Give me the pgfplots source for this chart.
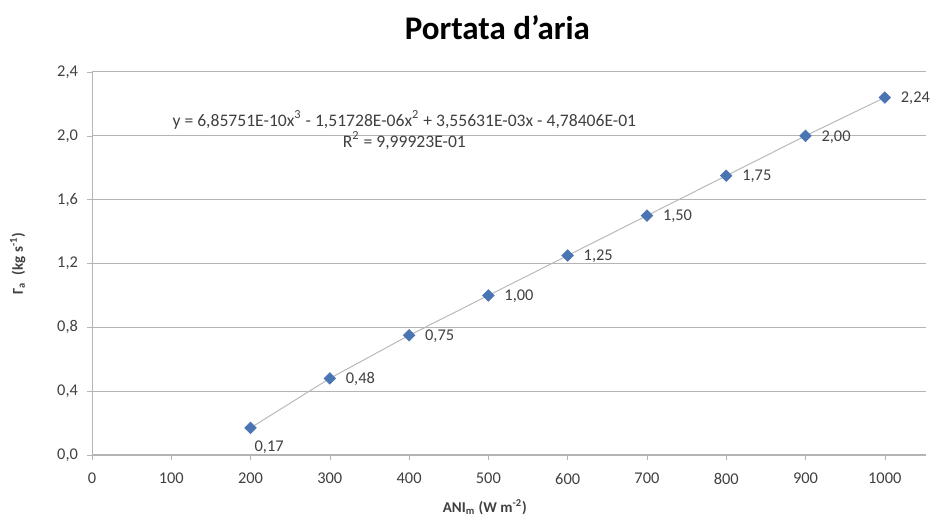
\documentclass[border=0pt]{standalone}
\usepackage{fontspec}
\setmainfont{Carlito}
\usepackage{pgfplots}
\pgfplotsset{compat=1.18}
\definecolor{markblue}{HTML}{4A74B2}
\definecolor{gridgray}{HTML}{B4B4B4}
\definecolor{txtgray}{HTML}{404040}

\begin{document}
\begin{tikzpicture}
\useasboundingbox (-46pt,-32.5pt) rectangle (423pt,227.5pt);
\begin{axis}[
    scale only axis,
    width=417pt, height=191.5pt,
    xmin=0, xmax=1052,
    ymin=0, ymax=2.4,
    xtick={0,100,...,1000},
    ytick={0,0.4,...,2.4},
    axis x line=bottom, axis y line=left,
    axis line style={gridgray, -},
    tick style={gridgray},
    tick align=outside,
    major tick length=2.5pt,
    ymajorgrids,
    grid style={gridgray, line width=0.5pt},
    ticklabel style={font=\fontsize{8.2}{9}\selectfont, text=txtgray},
    /pgf/number format/assume math mode=true,
    yticklabel style={xshift=-1pt, /pgf/number format/.cd, use comma, fixed, fixed zerofill, precision=1},
    xticklabel style={yshift=-3pt, /pgf/number format/.cd, set thousands separator={}},
    xlabel={\bfseries ANI\textsubscript{m} (W m\textsuperscript{-2})},
    ylabel={\bfseries Γ\textsubscript{a} \ (kg s\textsuperscript{-1})},
    label style={font=\fontsize{7.5}{9}\selectfont, text=txtgray},
    xlabel style={at={(axis description cs:0.471,-0.136)}, anchor=center},
    ylabel style={at={(axis description cs:-0.089,0.5)}, anchor=center, rotate=0},
    clip=false,
]
% linea di tendenza
\addplot[color=gray!55, line width=0.5pt, forget plot] coordinates {
    (200,0.17) (300,0.48) (400,0.75) (500,1.00) (600,1.25)
    (700,1.50) (800,1.75) (900,2.00) (1000,2.24)};
% punti
\addplot[only marks, mark=square*, mark size=2.0pt,
    mark options={fill=markblue, draw=markblue, rotate=45},
    nodes near coords,
    point meta=explicit,
    nodes near coords style={font=\fontsize{8.2}{9}\selectfont, text=txtgray,
        anchor=west, xshift=4.5pt, yshift=-0.5pt,
        /pgf/number format/.cd, use comma, fixed, fixed zerofill, precision=2, assume math mode=true},
] coordinates {
    (300,0.48) [0.48] (400,0.75) [0.75] (500,1.00) [1.00]
    (600,1.25) [1.25] (700,1.50) [1.50] (800,1.75) [1.75] (900,2.00) [2.00]
    (1000,2.24) [2.24]};
\addplot[only marks, mark=square*, mark size=2.0pt,
    mark options={fill=markblue, draw=markblue, rotate=45},
    nodes near coords,
    point meta=explicit,
    nodes near coords style={font=\fontsize{8.2}{9}\selectfont, text=txtgray,
        anchor=north west, xshift=-1.5pt, yshift=-3pt,
        /pgf/number format/.cd, use comma, fixed, fixed zerofill, precision=2, assume math mode=true},
] coordinates {(200,0.17) [0.17]};
\node[font=\fontsize{8.8}{10}\selectfont, text=txtgray] at (axis cs:394,2.10)
    {y = 6,85751E-10x\textsuperscript{3} - 1,51728E-06x\textsuperscript{2} + 3,55631E-03x - 4,78406E-01};
\node[font=\fontsize{8.8}{10}\selectfont, text=txtgray] at (axis cs:394,1.97)
    {R\textsuperscript{2} = 9,99923E-01};
\node[font=\fontsize{16.5}{19}\selectfont\bfseries] at (rel axis cs:0.486,1) [yshift=22pt] {Portata d'aria};
\end{axis}
\end{tikzpicture}
\end{document}
